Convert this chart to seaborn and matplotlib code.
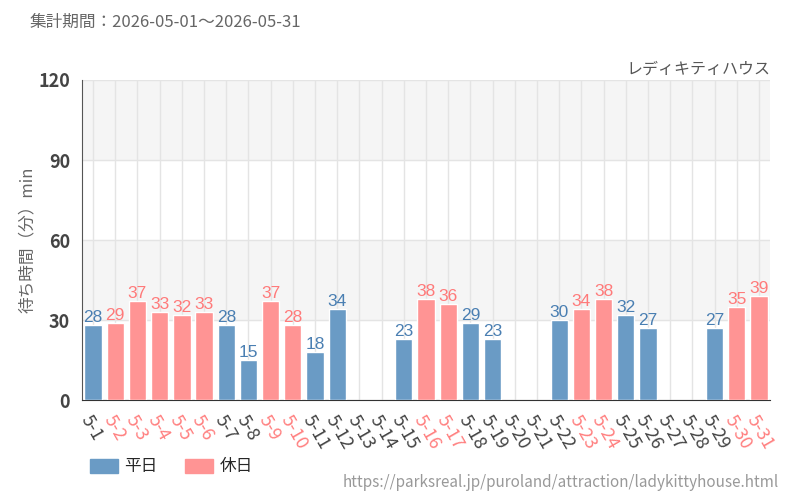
import matplotlib
matplotlib.use('Agg')
import matplotlib.pyplot as plt
import seaborn as sns
import pandas as pd
import numpy as np

# 日付・待ち時間・区分
days = ['5-%d' % d for d in range(1, 32)]
waits = [28, 29, 37, 33, 32, 33, 28, 15, 37, 28, 18, 34, None, None,
         23, 38, 36, 29, 23, None, None, 30, 34, 38, 32, 27, None, None,
         27, 35, 39]
kinds = ['平日', '休日', '休日', '休日', '休日', '休日', '平日', '平日', '休日', '休日',
         '平日', '平日', '平日', '平日', '平日', '休日', '休日', '平日', '平日', '平日',
         '平日', '平日', '休日', '休日', '平日', '平日', '平日', '平日', '平日', '休日',
         '休日']

colors = {'平日': '#6a9bc5', '休日': '#ff9494'}
text_colors = {'平日': '#4a7fb2', '休日': '#ff7a7a'}

sns.set_style('white')
plt.rcParams['font.family'] = ['Noto Sans CJK JP', 'DejaVu Sans']

df = pd.DataFrame({'day': days, 'wait': waits, 'kind': kinds})
df['wait'] = df['wait'].astype(float)

fig = plt.figure(figsize=(8, 5), dpi=100)
ax = fig.add_axes([0.1025, 0.2, 0.86, 0.64])

# 背景の帯
ax.axhspan(90, 120, color='#f5f5f5', zorder=0)
ax.axhspan(30, 60, color='#f5f5f5', zorder=0)

sns.barplot(data=df, x='day', y='wait', hue='kind', order=days,
            hue_order=['平日', '休日'], palette=colors, dodge=False,
            width=0.78, saturation=1, ax=ax, zorder=3)

for cont, k in zip(ax.containers, ['平日', '休日']):
    labels = ['' if np.isnan(b.get_height()) else '%d' % b.get_height() for b in cont]
    ax.bar_label(cont, labels=labels, padding=0, color=text_colors[k],
                 fontsize=12.5, family=['Liberation Sans', 'DejaVu Sans'])

ax.set_ylim(0, 120)
ax.set_yticks([0, 30, 60, 90, 120])
ax.set_xlim(-0.5, len(days) - 0.5)
ax.grid(True, color='#e4e4e4', linewidth=1, zorder=1)
ax.set_axisbelow(True)
for s in ['top', 'right']:
    ax.spines[s].set_visible(False)
ax.spines['left'].set_color('#555555')
ax.spines['bottom'].set_color('#333333')
ax.tick_params(axis='both', direction='out', length=5, colors='#333333')
ax.tick_params(axis='y', labelsize=13, labelcolor='#444444')
for lab in ax.get_yticklabels():
    lab.set_fontweight('bold')

ax.set_xlabel('')
ax.set_ylabel('待ち時間（分）min', fontsize=12, color='#666666', labelpad=2)
ax.set_xticks(range(len(days)))
ax.set_xticklabels(days, rotation=-60, ha='left', va='top',
                   rotation_mode='anchor', fontsize=13)
for lab, k in zip(ax.get_xticklabels(), kinds):
    lab.set_color('#ff8080' if k == '休日' else '#444444')

ax.get_legend().remove()
handles = [plt.Rectangle((0, 0), 1, 1, color=colors[k]) for k in ['平日', '休日']]
fig.legend(handles, ['平日', '休日'], loc='center left', bbox_to_anchor=(0.112, 0.066),
           ncol=2, frameon=False, fontsize=12, handlelength=1.7, handleheight=0.9,
           columnspacing=1.6, handletextpad=0.4, borderaxespad=0, borderpad=0)

fig.text(0.037, 0.955, '集計期間：2026-05-01～2026-05-31', fontsize=12,
         color='#666666', va='center')
fig.text(0.963, 0.862, 'レディキティハウス', fontsize=11.5, color='#555555',
         ha='right', va='center')
fig.text(0.973, 0.035, 'https://parksreal.jp/puroland/attraction/ladykittyhouse.html',
         fontsize=11, color='#999999', ha='right', va='center')

fig.savefig('out.png', dpi=100)
